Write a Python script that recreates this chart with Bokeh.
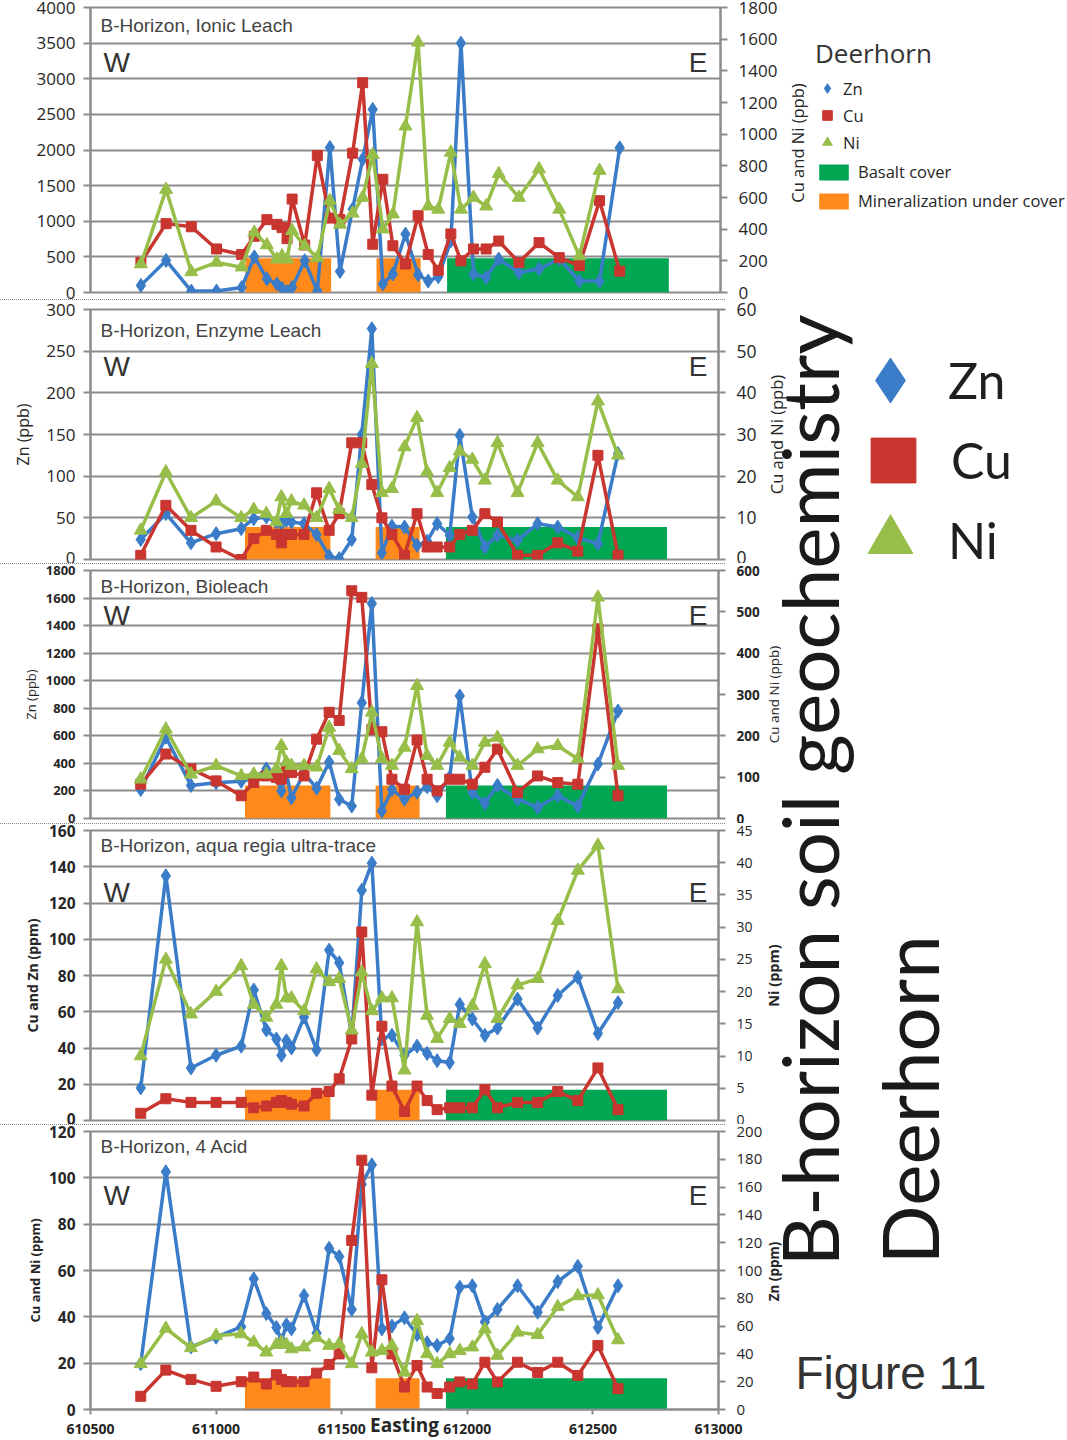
import numpy as np
from bokeh.plotting import figure
from bokeh.models import (Range1d, LinearAxis, FixedTicker, ColumnDataSource, Div,
                          Label, Legend, LegendItem, PrintfTickFormatter)
from bokeh.layouts import column, row
from bokeh.embed import file_html
from bokeh.resources import INLINE

NAN = float("nan")

# ---------------- data ----------------
EASTING = [610700, 610800, 610900, 611000, 611100, 611150, 611200, 611240, 611260, 611280,
           611300, 611350, 611400, 611450, 611490, 611540, 611580, 611620, 611660, 611700,
           611750, 611800, 611840, 611880, 611930, 611970, 612020, 612070, 612120, 612200,
           612280, 612360, 612440, 612520, 612600]

# Ionic Leach (ppb): Zn left axis, Cu & Ni right axis
ionic_zn = [100, 450, 20, 20, 70, 500, 190, 120, 60, 10, 70, 445, 20, 2035, 295, 1170, 1870, 2570,
            120, 260, 820, 250, 160, 220, 725, 3500, 260, 210, 470, 280, 330, 470, 160, 160, 2030]
ionic_cu = [190, 435, 415, 275, 240, 355, 460, 430, 410, 340, 590, 300, 865, 470, 460, 880, 1325, 305,
            715, 295, 180, 485, 240, 140, 370, 200, 275, 275, 325, 190, 315, 220, 170, 580, 135]
ionic_ni = [180, 650, 130, 190, 160, 380, 300, 210, 230, 210, 390, 295, 220, 580, 430, 500, 600, 870,
            400, 495, 1050, 1580, 545, 525, 885, 525, 600, 545, 750, 600, 780, 525, 230, 770, NAN]

# Enzyme Leach (ppb)
enzyme_zn = [24, 55, 20, 31, 37, 49, 51, 45, 43, 47, 45, 43, 30, 4, 1, 24, 150, 277,
             8, 40, 39, 17, 22, 43, 29, 149, 51, 15, 29, 23, 43, 39, 26, 19, 127]
enzyme_cu = [1, 13, 7, 3, 0, 5, 7, 6, 4, 6, 6, 6, 16, 7, 11, 28, 28, 18,
             10, 6, 1, 11, 3, 3, 3, 6, 7, 11, 9, 1, 1, 4, 2, 25, 1]
enzyme_ni = [7, 21, 10, 14, 10, 12, 11, 9, 15, 11, 14, 13, 10, 17, 12, 10, 23, 47,
             16, 17, 27, 34, 21, 16, 22, 26, 24, 19, 28, 16, 28, 19, 15, 38, 25]

# Bioleach (ppb)
bio_zn = [210, 590, 240, 260, 270, 290, 360, 300, 200, 330, 150, 330, 220, 410, 140, 90, 840, 1560,
          55, 210, 140, 190, 230, 165, 300, 890, 190, 110, 240, 140, 80, 165, 90, 395, 780]
bio_cu = [83, 156, 120, 91, 55, 87, 103, 99, 95, 120, 111, 103, 192, 257, 237, 551, 535, 215,
          210, 95, 71, 190, 95, 67, 95, 95, 83, 124, 168, 63, 103, 87, 83, 459, 55]
bio_ni = [95, 216, 107, 128, 103, 107, 107, 120, 176, 136, 128, 128, 124, 220, 164, 120, 144, 257,
          145, 128, 172, 321, 152, 128, 184, 148, 128, 184, 196, 128, 168, 176, 144, 535, 128]

# Aqua regia ultra-trace (ppm): Cu & Zn left, Ni right
aqua_zn = [18, 135, 29, 36, 41, 72, 50, 45, 36, 44, 40, 57, 39, 94, 87, 47, 127, 142,
           45, 47, 36, 41, 37, 33, 32, 64, 56, 47, 51, 67, 51, 69, 79, 48, 65]
aqua_cu = [4, 12, 10, 10, 10, 7, 8, 10, 11, 10, 9, 8, 15, 16, 23, 45, 104, 14,
           52, 19, 5, 19, 11, 6, 7, 7, 7, 17, 7, 10, 10, 16, 11, 29, 6]
aqua_ni = [10, 25, 16.5, 20, 24, 18, 16, 18, 24, 19, 19, 17, 23.5, 21.5, 22, 14, 23, 17,
           19, 19, 7.8, 30.8, 16.3, 12.7, 15.8, 15, 17.8, 24.3, 15.8, 21, 22, 31, 38.8, 42.7, 20.4]

# 4 Acid (ppm): Cu & Ni left, Zn right
acid_zn = [33, 171, 45, 52, 59.5, 94, 69, 59, 49.5, 61, 58, 82, 55, 116, 110, 72, 162, 176,
           58, 60, 66, 54, 48, 46, 51, 88, 89, 63, 72, 89, 70, 92, 103, 59, 89]
acid_cu = [5.7, 17, 13, 10, 12, 14, 11, 15, 13, 12, 12, 12, 15.7, 19.4, 24, 73, 107.6, 18,
           56, 24, 9.7, 19, 9.7, 6.9, 9.7, 11.9, 11, 20.4, 11.9, 20.4, 16, 20.4, 14.7, 27.6, 9]
acid_ni = [19.7, 35, 26.6, 31.9, 32.6, 29, 24.7, 28, 29, 28, 26.1, 26.9, 31.1, 27.6, 28.3, 19.7, 32.6, 24.7,
           25.4, 27.6, 16, 38.3, 24, 19.7, 24, 25.4, 26.9, 34.7, 23.3, 33.3, 32.3, 44.3, 49, 49.4, 30]

# cover zones (Easting extents) and their bar height per panel (left-axis units)
MINERAL_FROM = [611115, 611635]
MINERAL_TO = [611455, 611810]
BASALT_FROM = [611915]
BASALT_TO = [612795]
COVER_TOP = [480, 39, 240, 17, 13.5]

TITLES = ["B-Horizon, Ionic Leach", "B-Horizon, Enzyme Leach", "B-Horizon, Bioleach",
          "B-Horizon, aqua regia ultra-trace", "B-Horizon, 4 Acid"]
LEFT_MAX = [4000, 300, 1800, 160, 120]
LEFT_STEP = [500, 50, 200, 20, 20]
RIGHT_MAX = [1800, 60, 600, 45, 200]
RIGHT_STEP = [200, 10, 100, 5, 20]
LEFT_LABEL = [None, "Zn (ppb)", "Zn (ppb)", "Cu and Zn (ppm)", "Cu and Ni (ppm)"]
RIGHT_LABEL = ["Cu and Ni (ppb)", "Cu and Ni (ppb)", "Cu and Ni (ppb)", "Ni (ppm)", "Zn (ppm)"]
X_TICKS = [610500, 611000, 611500, 612000, 612500, 613000]

SERIES = [
    (ionic_zn, ionic_cu, ionic_ni),
    (enzyme_zn, enzyme_cu, enzyme_ni),
    (bio_zn, bio_cu, bio_ni),
    (aqua_zn, aqua_cu, aqua_ni),
    (acid_zn, acid_cu, acid_ni),
]
# which y axis each element uses: (Zn, Cu, Ni)
AXIS_OF = [("default", "right", "right"), ("default", "right", "right"), ("default", "right", "right"),
           ("default", "default", "right"), ("right", "default", "default")]

# ---------------- styles / layout ----------------
ZN_C, CU_C, NI_C = "#3A7CC8", "#C9352F", "#97BE48"
MIN_C, BAS_C = "#FF8A1C", "#00A651"
GRID_C = "#8C8C8C"
TEXT_C = "#262626"
FONT = "Open Sans"

FRAME_LEFT = 90
FRAME_W = 630
P_HEIGHT = [299, 263, 259, 300, 315]
P_TOP = [7, 9, 6, 6, 6]
P_FRAME = [285, 250, 248, 290, 280]
TITLE_OFF = [18, 21, 16, 15, 17]
WE_OFF = [55, 57, 45, 62, 66]
LT_SIZE = [17, 17, 13, 15.5, 15.5]
LT_BOLD = [False, False, True, True, True]
RT_SIZE = [17, 17.5, 13.5, 14, 15]
RT_BOLD = [False, False, True, False, False]
LA_SIZE = [16, 16, 13, 14, 13]
LA_BOLD = [False, False, False, True, True]
RA_SIZE = [16.5, 16.5, 13.5, 14.5, 13.5]
RA_BOLD = [False, False, False, True, True]
LA_STANDOFF = [10, 9, 3, 4, 2]
RA_X = [797, 776, 773, 773, 773]      # page x of the right-axis titles


def style_axis(ax, tsize, tbold, label, lsize, lbold, lstand, standoff):
    ax.axis_line_color = GRID_C
    ax.axis_line_width = 2
    ax.major_tick_line_color = GRID_C
    ax.major_tick_line_width = 2
    ax.major_tick_in = 0
    ax.major_tick_out = 7
    ax.minor_tick_line_color = None
    ax.major_label_text_font = FONT
    ax.major_label_text_font_size = f"{tsize}px"
    ax.major_label_text_font_style = "bold" if tbold else "normal"
    ax.major_label_text_color = TEXT_C
    ax.major_label_standoff = standoff
    if label:
        ax.axis_label = label
        ax.axis_label_text_font = FONT
        ax.axis_label_text_font_size = f"{lsize}px"
        ax.axis_label_text_font_style = "bold" if lbold else "normal"
        ax.axis_label_text_color = TEXT_C
        ax.axis_label_standoff = lstand


def make_panel(i, width):
    h, top, fh = P_HEIGHT[i], P_TOP[i], P_FRAME[i]
    bottom = h - top - fh
    p = figure(width=width, height=h, x_range=Range1d(610500, 613000),
               y_range=Range1d(0, LEFT_MAX[i]), output_backend="svg", toolbar_location=None,
               x_axis_location="below" if i == 4 else None,
               min_border_left=FRAME_LEFT, min_border_right=width - FRAME_LEFT - FRAME_W,
               min_border_top=top, min_border_bottom=bottom)
    p.extra_y_ranges = {"right": Range1d(0, RIGHT_MAX[i])}
    p.background_fill_color = "white"
    p.outline_line_color = GRID_C
    p.outline_line_width = 2
    p.xgrid.visible = False
    lt = FixedTicker(ticks=list(range(0, LEFT_MAX[i] + 1, LEFT_STEP[i])))
    p.yaxis[0].ticker = lt
    p.ygrid.ticker = lt
    p.ygrid.grid_line_color = GRID_C
    p.ygrid.grid_line_width = 2
    style_axis(p.yaxis[0], LT_SIZE[i], LT_BOLD[i], LEFT_LABEL[i], LA_SIZE[i], LA_BOLD[i],
               LA_STANDOFF[i], 8)
    ry = LinearAxis(y_range_name="right",
                    ticker=FixedTicker(ticks=list(range(0, RIGHT_MAX[i] + 1, RIGHT_STEP[i]))))
    style_axis(ry, RT_SIZE[i], RT_BOLD[i], None, 0, False, 0, 11)
    p.add_layout(ry, "right")

    if i == 4:
        xa = p.xaxis[0]
        xa.ticker = FixedTicker(ticks=X_TICKS)
        xa.formatter = PrintfTickFormatter(format="%d")
        style_axis(xa, 14, True, "Easting", 19, True, -25, 9)
        xa.major_tick_out = 5

    # cover zones
    p.quad(left=MINERAL_FROM, right=MINERAL_TO, bottom=0,
           top=[COVER_TOP[i]] * len(MINERAL_FROM), fill_color=MIN_C, line_color=None)
    p.quad(left=BASALT_FROM, right=BASALT_TO, bottom=0,
           top=[COVER_TOP[i]] * len(BASALT_FROM), fill_color=BAS_C, line_color=None)

    zn, cu, ni = SERIES[i]
    src = ColumnDataSource(dict(e=np.array(EASTING, dtype=float), zn=np.array(zn, dtype=float),
                                cu=np.array(cu, dtype=float), ni=np.array(ni, dtype=float)))
    ax_zn, ax_cu, ax_ni = AXIS_OF[i]
    p.line("e", "zn", source=src, color=ZN_C, line_width=3.5, y_range_name=ax_zn)
    p.scatter("e", "zn", source=src, marker="diamond", size=14, color=ZN_C, y_range_name=ax_zn)
    p.line("e", "cu", source=src, color=CU_C, line_width=3.5, y_range_name=ax_cu)
    p.scatter("e", "cu", source=src, marker="square", size=10, color=CU_C, y_range_name=ax_cu)
    p.line("e", "ni", source=src, color=NI_C, line_width=3.5, y_range_name=ax_ni)
    p.scatter("e", "ni", source=src, marker="triangle", size=13, color=NI_C, y_range_name=ax_ni)

    p.add_layout(Label(x=10, y=fh - TITLE_OFF[i], x_units="screen", y_units="screen", text=TITLES[i],
                       text_font="Liberation Sans", text_font_size="19px", text_color="#444444",
                       text_baseline="middle"))
    p.add_layout(Label(x=13, y=fh - WE_OFF[i], x_units="screen", y_units="screen", text="W",
                       text_font="Liberation Sans", text_font_size="28px", text_color="#333333",
                       text_baseline="middle"))
    p.add_layout(Label(x=FRAME_W - 13, y=fh - WE_OFF[i], x_units="screen", y_units="screen", text="E",
                       text_font="Liberation Sans", text_font_size="28px", text_color="#333333",
                       text_baseline="middle", text_align="right"))
    return p


def blank_fig(w, h):
    f = figure(width=w, height=h, x_range=Range1d(0, 1), y_range=Range1d(0, 1),
               output_backend="svg", toolbar_location=None, x_axis_location=None,
               y_axis_location=None, min_border=0)
    f.outline_line_color = None
    f.grid.visible = False
    return f


def separator():
    return Div(text="", width=725, height=1, margin=0,
               styles={"border-top": "1px dotted #8a8a8a", "box-sizing": "border-box"})


def axis_title(fig, i, x0, y_center_from_bottom):
    fig.add_layout(Label(x=RA_X[i] - x0, y=y_center_from_bottom, x_units="screen", y_units="screen",
                         text=RIGHT_LABEL[i], angle=np.pi / 2, text_align="center",
                         text_baseline="middle", text_font=FONT, text_font_size=f"{RA_SIZE[i]}px",
                         text_font_style="bold" if RA_BOLD[i] else "normal", text_color=TEXT_C))


# ---- top row: panel 1 + legend column ----
P1_W = 785
p1 = make_panel(0, P1_W)
lf = blank_fig(1067 - P1_W, P_HEIGHT[0])
axis_title(lf, 0, P1_W, P_HEIGHT[0] - (P_TOP[0] + P_FRAME[0] / 2))
kz = lf.scatter(x=[NAN], y=[NAN], marker="diamond", size=10, color=ZN_C)
kc = lf.scatter(x=[NAN], y=[NAN], marker="square", size=10, color=CU_C)
kn = lf.scatter(x=[NAN], y=[NAN], marker="triangle", size=10, color=NI_C)
kb = lf.quad(left=[NAN], right=[NAN], bottom=[NAN], top=[NAN], fill_color=BAS_C, line_color=None)
km = lf.quad(left=[NAN], right=[NAN], bottom=[NAN], top=[NAN], fill_color=MIN_C, line_color=None)
leg_a = Legend(items=[LegendItem(label="Zn", renderers=[kz]),
                      LegendItem(label="Cu", renderers=[kc]),
                      LegendItem(label="Ni", renderers=[kn])],
               location=(815 - P1_W, 138), title="Deerhorn")
leg_b = Legend(items=[LegendItem(label="Basalt cover", renderers=[kb]),
                      LegendItem(label="Mineralization under cover", renderers=[km])],
               location=(815 - P1_W, 80))
for lg in (leg_a, leg_b):
    lg.padding = 0
    lg.margin = 0
    lg.border_line_color = None
    lg.background_fill_alpha = 0
    lg.label_text_font = FONT
    lg.label_text_font_size = "16.5px"
    lg.label_text_color = TEXT_C
leg_a.glyph_width = 24
leg_a.glyph_height = 24
leg_a.spacing = 3
leg_a.label_standoff = 4
leg_a.title_text_font = FONT
leg_a.title_text_font_size = "26px"
leg_a.title_text_font_style = "normal"
leg_a.title_text_color = "#333333"
leg_a.title_standoff = 5
leg_b.glyph_width = 37
leg_b.glyph_height = 20
leg_b.label_height = 20
leg_b.spacing = 6
leg_b.label_standoff = 6
lf.add_layout(leg_a)
lf.add_layout(leg_b)

# ---- lower panels + annotation column ----
LOW_W = 765
p2, p3, p4, p5 = [make_panel(i, LOW_W) for i in range(1, 5)]
RF_H = sum(P_HEIGHT[1:]) + 3
rf = blank_fig(1067 - LOW_W, RF_H)
top_y = P_HEIGHT[0] + 1          # page y where the lower block starts
y = top_y
for i in range(1, 5):
    centre = y + P_TOP[i] + P_FRAME[i] / 2
    axis_title(rf, i, LOW_W, RF_H - (centre - top_y))
    y += P_HEIGHT[i] + 1

DX = 785 - LOW_W
big = [("Zn", "diamond", ZN_C, (49 + DX, 1004)), ("Cu", "square", CU_C, (52 + DX, 924)),
       ("Ni", "triangle", NI_C, (49 + DX, 844))]
for name, mk, col, loc in big:
    r = rf.scatter(x=[NAN], y=[NAN], marker=mk, size=45, color=col)
    lg = Legend(items=[LegendItem(label=name, renderers=[r])], location=loc,
                glyph_width=112, glyph_height=112, label_height=112, padding=0, margin=0,
                label_standoff=2, label_text_font="Lato", label_text_font_size="50px",
                label_text_color="#1f1f1f", border_line_color=None, background_fill_alpha=0)
    rf.add_layout(lg)

rf.add_layout(Label(x=23 + DX, y=174, x_units="screen", y_units="screen",
                    text="B-horizon soil geochemistry", angle=np.pi / 2, text_font="Lato",
                    text_font_size="78px", text_baseline="alphabetic", text_align="left",
                    text_color="#1a1a1a"))
rf.add_layout(Label(x=123 + DX, y=176, x_units="screen", y_units="screen",
                    text="Deerhorn", angle=np.pi / 2, text_font="Lato",
                    text_font_size="78px", text_baseline="alphabetic", text_align="left",
                    text_color="#1a1a1a"))
rf.add_layout(Label(x=10 + DX, y=68, x_units="screen", y_units="screen", text="Figure 11",
                    text_font="Liberation Sans", text_font_size="46px", text_color="#333333",
                    text_baseline="middle"))

lower_left = column(p2, separator(), p3, separator(), p4, separator(), p5)
layout = column(row(p1, lf), separator(), row(lower_left, rf))
open("out.html", "w").write(file_html(layout, INLINE, title="B-horizon soil geochemistry"))
